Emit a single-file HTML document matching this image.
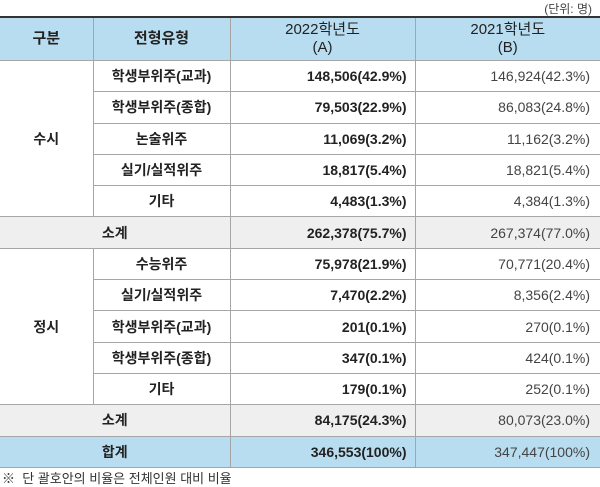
<!DOCTYPE html>
<html><head><meta charset="utf-8"><style>
body{margin:0;width:600px;height:485px;background:#fff;font-family:"Liberation Sans","Noto Sans CJK KR",sans-serif;color:#222;overflow:hidden;position:relative}
.unit{position:absolute;right:8px;top:0;font-size:12px;color:#444}
table{position:absolute;top:16px;left:0;width:600px;border-collapse:collapse;font-size:14px;table-layout:fixed}
td,th{border:1px solid #a6a6a6;height:30.3px;padding:0;text-align:center}
tr:first-child th{border-top:2px solid #333}
th{background:#b9ddf0;font-weight:bold;height:42px;line-height:18px;font-size:15px}
td:first-child,th:first-child{border-left:none}
td:last-child,th:last-child{border-right:none}
.b{font-weight:bold}
.r{text-align:right;padding-right:8px;font-weight:bold}
.r2{text-align:right;padding-right:10px;color:#444}
.g td{background:#efefef}
.t td{background:#b9ddf0}
.note{position:absolute;left:2px;top:468px;font-size:13px;color:#333}
</style></head><body>
<div class="unit">(단위: 명)</div>
<table>
<colgroup><col style="width:93px"><col style="width:137px"><col style="width:185px"><col style="width:185px"></colgroup>
<tr><th>구분</th><th>전형유형</th><th style="font-weight:normal">2022학년도<br>(A)</th><th style="font-weight:normal">2021학년도<br>(B)</th></tr>
<tr><td rowspan="5" class="b">수시</td><td class="b">학생부위주(교과)</td><td class="r">148,506(42.9%)</td><td class="r2">146,924(42.3%)</td></tr>
<tr><td class="b">학생부위주(종합)</td><td class="r">79,503(22.9%)</td><td class="r2">86,083(24.8%)</td></tr>
<tr><td class="b">논술위주</td><td class="r">11,069(3.2%)</td><td class="r2">11,162(3.2%)</td></tr>
<tr><td class="b">실기/실적위주</td><td class="r">18,817(5.4%)</td><td class="r2">18,821(5.4%)</td></tr>
<tr><td class="b">기타</td><td class="r">4,483(1.3%)</td><td class="r2">4,384(1.3%)</td></tr>
<tr class="g"><td colspan="2" class="b">소계</td><td class="r">262,378(75.7%)</td><td class="r2">267,374(77.0%)</td></tr>
<tr><td rowspan="5" class="b">정시</td><td class="b">수능위주</td><td class="r">75,978(21.9%)</td><td class="r2">70,771(20.4%)</td></tr>
<tr><td class="b">실기/실적위주</td><td class="r">7,470(2.2%)</td><td class="r2">8,356(2.4%)</td></tr>
<tr><td class="b">학생부위주(교과)</td><td class="r">201(0.1%)</td><td class="r2">270(0.1%)</td></tr>
<tr><td class="b">학생부위주(종합)</td><td class="r">347(0.1%)</td><td class="r2">424(0.1%)</td></tr>
<tr><td class="b">기타</td><td class="r">179(0.1%)</td><td class="r2">252(0.1%)</td></tr>
<tr class="g"><td colspan="2" class="b">소계</td><td class="r">84,175(24.3%)</td><td class="r2">80,073(23.0%)</td></tr>
<tr class="t"><td colspan="2" class="b">합계</td><td class="r">346,553(100%)</td><td class="r2">347,447(100%)</td></tr>
</table>
<div class="note">※&nbsp; 단 괄호안의 비율은 전체인원 대비 비율</div>
</body></html>
